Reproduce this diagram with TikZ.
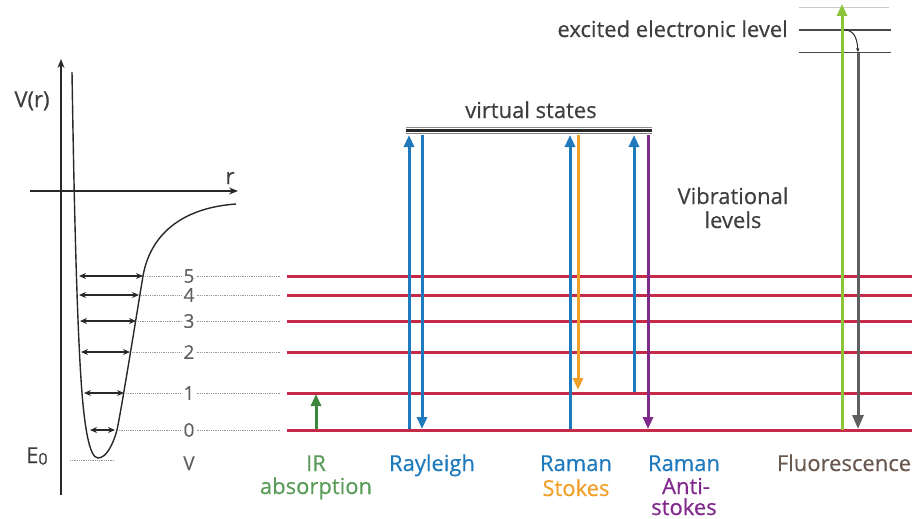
\documentclass[tikz,border=0pt]{standalone}
\usepackage{fontspec}
\setmainfont{Open Sans}[FakeBold=0.4]
\usetikzlibrary{arrows.meta}
\definecolor{txt}{RGB}{62,62,62}
\definecolor{axis}{RGB}{40,40,40}
\definecolor{lvlred}{RGB}{198,42,72}
\definecolor{rayblue}{RGB}{30,122,188}
\definecolor{stkorange}{RGB}{240,160,40}
\definecolor{antipurple}{RGB}{128,40,140}
\definecolor{irgreen}{RGB}{60,135,60}
\definecolor{irtext}{RGB}{90,155,90}
\definecolor{flgreen}{RGB}{140,196,60}
\definecolor{flgray}{RGB}{95,95,95}
\definecolor{fltext}{RGB}{105,88,78}
\definecolor{dotgray}{RGB}{150,150,150}
\definecolor{numgray}{RGB}{95,95,95}
\tikzset{
  lbl/.style={font=\fontsize{22}{24}\selectfont, inner sep=0pt, anchor=base},
  num/.style={font=\fontsize{19}{20}\selectfont, text=numgray, inner sep=0pt},
  lvlline/.style={lvlred, line width=3pt},
  guide/.style={dotgray, densely dotted, line width=0.8pt},
  trans/.style={line width=3pt, -{Triangle[length=12pt,width=10pt]}},
  wid/.style={axis, line width=1.3pt, {Stealth[length=7pt,width=6pt]}-{Stealth[length=7pt,width=6pt]}},
  ax/.style={axis, line width=1.4pt, -{Stealth[length=9pt,width=7pt]}},
}
\begin{document}
\begin{tikzpicture}[x=1pt,y=-1pt]
\useasboundingbox (0,0) rectangle (915,519);
% axes
\coordinate (yb) at (61,495); \coordinate (yt) at (61,59);
\coordinate (xl) at (30,191); \coordinate (xr) at (238,191);
\draw[ax] (yb) -- (yt);
\draw[ax] (xl) -- (xr);
\node[lbl, text=txt] (vr) at (32,107) {V(r)};
\node[lbl, text=txt] (rr) at (230,184) {r};
% potential curve
\draw[axis, line width=1.4pt] (72,72) .. controls (74,200) and (77,330) .. (82,393)
  .. controls (84.5,424) and (89,458) .. (98,458)
  .. controls (106,458) and (113,445) .. (117,430)
  .. controls (121,412) and (139,300) .. (143,276)
  .. controls (150,236) and (180,208) .. (236,204);
% level widths
\foreach \y/\a/\b in {276/79/143, 295/79/139, 321/80/136, 352/81/130, 393/84/124, 430/90/115} {
  \draw[wid] (\a,\y) -- (\b,\y);
}
% guides and numbers
\foreach \y/\b/\n in {276/145/5, 295/141/4, 321/138/3, 352/132/2, 393/126/1, 430/117/0} {
  \node[num] (n\n) at (189,\y) {\n};
  \draw[guide] (\b,\y) -- ([xshift=-2pt]n\n.west);
  \draw[guide] ([xshift=2pt]n\n.east) -- (281,\y);
}
\draw[guide] (70,460) -- (115,460);
\node[lbl, text=txt, anchor=base west] (e0) at (26,463) {E{\fontsize{16}{16}\selectfont\raisebox{-1.5pt}{0}}};
\node[num, anchor=base] (vv) at (189,470) {V};
% vibrational levels
\foreach \y/\n in {430/0, 393/1, 352/2, 321/3, 295/4, 276/5} {
  \coordinate (a\n) at (287,\y); \coordinate (b\n) at (912,\y);
  \draw[lvlline] (a\n) -- (b\n);
}
% virtual states
\coordinate (vsl) at (406,127.5); \coordinate (vsr) at (652,127.5);
\coordinate (vsm) at (406,130.5); \coordinate (vsmr) at (652,130.5);
\coordinate (vsl2) at (406,133.5); \coordinate (vsr2) at (652,133.5);
\draw[gray!90, line width=1.3pt] (vsl) -- (vsr);
\draw[axis, line width=2.2pt] (vsm) -- (vsmr);
\draw[gray, line width=1.5pt] (vsl2) -- (vsr2);
\node[lbl, text=txt] (vs) at (531,118) {virtual states};
% IR absorption
\coordinate (ir0) at (316,429); \coordinate (ir1) at (316,394);
\draw[trans, irgreen] (ir0) -- (ir1);
% Rayleigh
\coordinate (ry0) at (409,429); \coordinate (ry1) at (409,135);
\coordinate (rd0) at (422,135); \coordinate (rd1) at (422,429);
\draw[trans, rayblue] (ry0) -- (ry1);
\draw[trans, rayblue] (rd0) -- (rd1);
% Raman Stokes
\coordinate (su0) at (570,429); \coordinate (su1) at (570,135);
\coordinate (sd0) at (578,135); \coordinate (sd1) at (578,390);
\draw[trans, rayblue] (su0) -- (su1);
\draw[trans, stkorange] (sd0) -- (sd1);
% Raman anti-Stokes
\coordinate (au0) at (634,392); \coordinate (au1) at (634,135);
\coordinate (ad0) at (648,135); \coordinate (ad1) at (648,429);
\draw[trans, rayblue] (au0) -- (au1);
\draw[trans, antipurple] (ad0) -- (ad1);
% excited electronic levels
\draw[dotgray!50, line width=0.8pt] (799,7) -- (889,7);
\coordinate (el1) at (799,30); \coordinate (el1r) at (891,30);
\coordinate (el2) at (799,52.5); \coordinate (el2r) at (891,52.5);
\draw[axis!85, line width=1.1pt] (el1) -- (el1r);
\draw[axis!85, line width=1.1pt] (el2) -- (el2r);
\node[lbl, text=txt, anchor=base east] (exc) at (788,37) {excited electronic level};
% fluorescence
\coordinate (fu0) at (842,430); \coordinate (fu1) at (842,4);
\draw[trans, flgreen] (fu0) -- (fu1);
\coordinate (fc0) at (844,30); \coordinate (fc1) at (858,52);
\draw[axis, line width=1pt, -{Stealth[length=4pt,width=3.5pt]}] (fc0) .. controls (853,30) and (857,36) .. (fc1);
\coordinate (fd0) at (858,53); \coordinate (fd1) at (858,429);
\draw[flgray, line width=3pt, -{Triangle[length=14pt,width=11pt]}] (fd0) -- (fd1);
% labels
\node[lbl, text=txt] (vib1) at (733,204) {Vibrational};
\node[lbl, text=txt] (vib2) at (733,228) {levels};
\node[lbl, text=irtext] (ir) at (316,471) {IR};
\node[lbl, text=irtext] (irb) at (316,494) {absorption};
\node[lbl, text=rayblue] (ray) at (432,471) {Rayleigh};
\node[lbl, text=rayblue] (ram1) at (576,471) {Raman};
\node[lbl, text=stkorange] (stk) at (576,496) {Stokes};
\node[lbl, text=rayblue] (ram2) at (684,471) {Raman};
\node[lbl, text=antipurple] (anti) at (686,494) {Anti-};
\node[lbl, text=antipurple] (stk2) at (684,515) {stokes};
\node[lbl, text=fltext] (fl) at (844,471) {Fluorescence};
\end{tikzpicture}
\end{document}
